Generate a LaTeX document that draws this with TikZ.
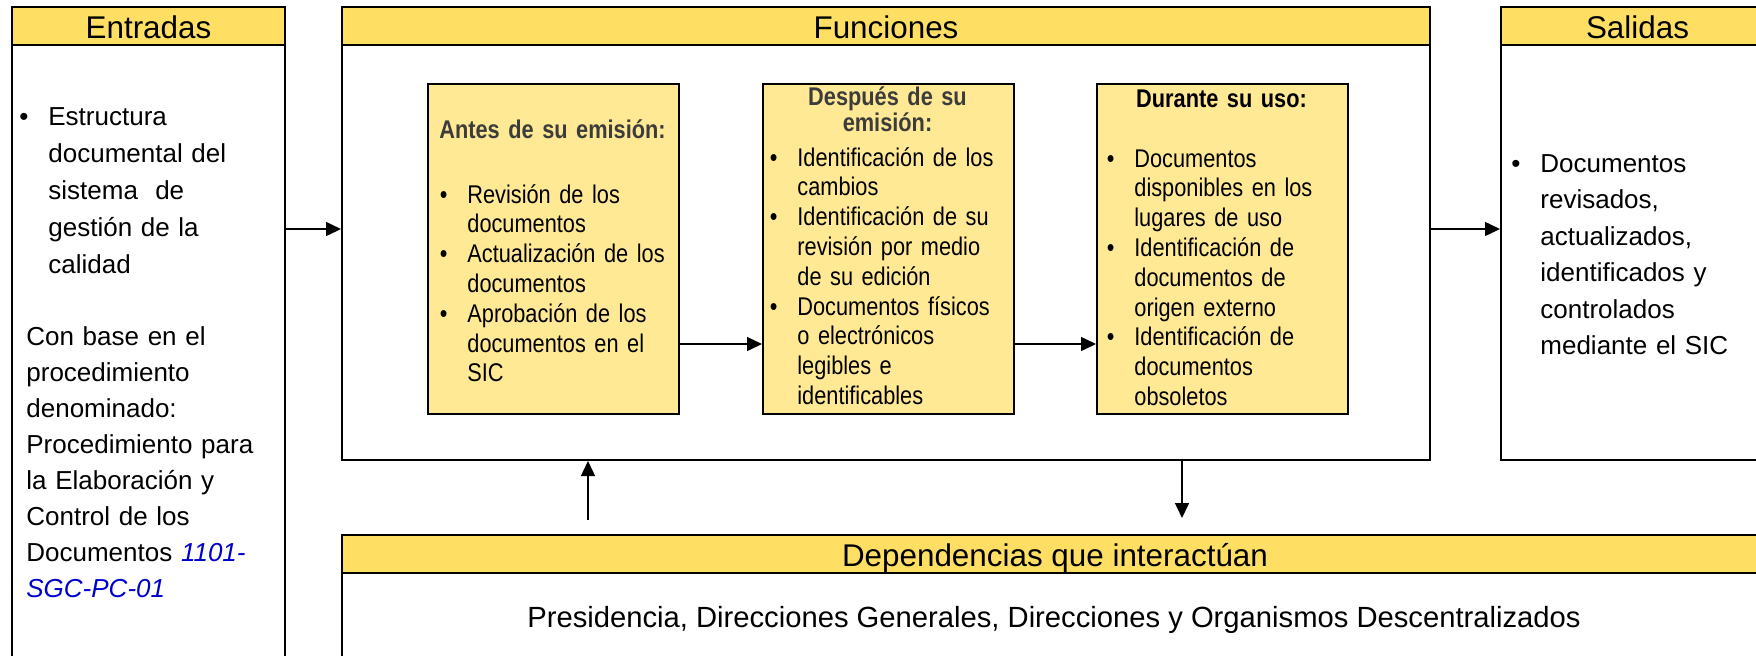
\documentclass[tikz,border=0pt]{standalone}
\usepackage{fontspec}
\setmainfont{Liberation Sans}
\newfontfamily\narrowfont{Liberation Sans}[FakeStretch=0.85]
\usetikzlibrary{arrows.meta}

\definecolor{hdryellow}{RGB}{255,223,99}
\definecolor{boxyellow}{RGB}{255,233,148}
\definecolor{headgray}{RGB}{60,60,60}
\definecolor{codeblue}{RGB}{0,0,204}

\newcommand{\itembul}{\leavevmode\llap{\textbullet\hspace{10pt}}}

\tikzset{
    outerbox/.style={draw, line width=1pt, anchor=north west, inner sep=0pt},
    header/.style={outerbox, fill=hdryellow, minimum height=19pt, text height=12pt, text depth=0pt,
        font=\fontsize{15.7}{18}\selectfont},
    innerbox/.style={outerbox, fill=boxyellow, minimum width=125.5pt, minimum height=165pt},
    innerhead/.style={anchor=base, inner sep=0pt, text width=120pt, align=center,
        font=\narrowfont\bfseries\fontsize{12.8}{11}\selectfont},
    innertxt/.style={anchor=base west, inner sep=0pt, text width=110pt, align=left,
        font=\narrowfont\fontsize{12.8}{14.9}\selectfont},
    bodytxt/.style={anchor=base west, inner sep=0pt, text width=125pt, align=left,
        font=\fontsize{13}{18}\selectfont},
    deptxt/.style={anchor=base, inner sep=0pt, font=\fontsize{14.6}{17}\selectfont},
    arr/.style={line width=0.75pt, -{Triangle[length=7.5pt,width=7pt]}}
}

\begin{document}
\begin{tikzpicture}[x=0.5pt,y=-0.5pt]
    \useasboundingbox (0,0) rectangle (1756,655);
    \fill[white] (0,0) rectangle (1756,655);
    \clip (0,0) rectangle (1756,655);
    % Entradas
    \node[outerbox, minimum width=136.5pt, minimum height=347pt] (ent) at (11,6) {};
    \node[header, minimum width=136.5pt] (ent-h) at (11,6) {Entradas};
    \node[bodytxt, font=\fontsize{13}{18.6}\selectfont] (ent-1) at (48,125) {\itembul Estructura\\documental del\\sistema \ de\\gestión de la\\calidad};
    \node[bodytxt] (ent-2) at (26,345) {Con base en el\\procedimiento\\denominado:\\Procedimiento para\\la Elaboración y\\Control de los\\Documentos {\color{codeblue}\itshape 1101-}\\{\color{codeblue}\itshape SGC-PC-01}};
    % Funciones
    \node[outerbox, minimum width=544pt, minimum height=226.5pt] (fun) at (341,6) {};
    \node[header, minimum width=544pt] (fun-h) at (341,6) {Funciones};
    \foreach \name/\x in {b1/427,b2/762,b3/1096} {
        \node[innerbox] (\name) at (\x,83) {};
    }
    \node[innerhead, text=headgray] (b1-h) at (552.5,138) {Antes de su emisión:};
    \node[innertxt] (b1-l) at (467,203) {\itembul Revisión de los\\documentos\\\itembul Actualización de los\\documentos\\\itembul Aprobación de los\\documentos en el\\SIC};
    \node[innerhead, text=headgray] (b2-h) at (887.5,105) {Después de su\\emisión:};
    \node[innertxt] (b2-l) at (797,166) {\itembul Identificación de los\\cambios\\\itembul Identificación de su\\revisión por medio\\de su edición\\\itembul Documentos físicos\\o electrónicos\\legibles e\\identificables};
    \node[innerhead] (b3-h) at (1221.5,107) {Durante su uso:};
    \node[innertxt] (b3-l) at (1134,167) {\itembul Documentos\\disponibles en los\\lugares de uso\\\itembul Identificación de\\documentos de\\origen externo\\\itembul Identificación de\\documentos\\obsoletos};
    % Salidas
    \node[outerbox, minimum width=136.5pt, minimum height=226.5pt] (sal) at (1500,6) {};
    \node[header, minimum width=136.5pt] (sal-h) at (1500,6) {Salidas};
    \node[bodytxt, font=\fontsize{13}{18.25}\selectfont] (sal-1) at (1540,172) {\itembul Documentos\\revisados,\\actualizados,\\identificados y\\controlados\\mediante el SIC};
    % Dependencias
    \node[outerbox, minimum width=713pt, minimum height=83pt] (dep) at (341,534) {};
    \node[header, minimum width=713pt] (dep-h) at (341,534) {Dependencias que interactúan};
    \node[deptxt] (dep-1) at (1054,627) {Presidencia, Direcciones Generales, Direcciones y Organismos Descentralizados};
    % Arrows
    \coordinate (lvl) at (0,229);
    \coordinate (mid) at (0,344);
    \coordinate (up) at (588,520);
    \coordinate (down) at (1182,518);
    \draw[arr] (lvl -| ent.east) -- (lvl -| fun.west);
    \draw[arr] (lvl -| fun.east) -- (lvl -| sal.west);
    \draw[arr] (mid -| b1.east) -- (mid -| b2.west);
    \draw[arr] (mid -| b2.east) -- (mid -| b3.west);
    \draw[arr] (up) -- (up |- fun.south);
    \draw[arr] (down |- fun.south) -- (down);
\end{tikzpicture}
\end{document}
